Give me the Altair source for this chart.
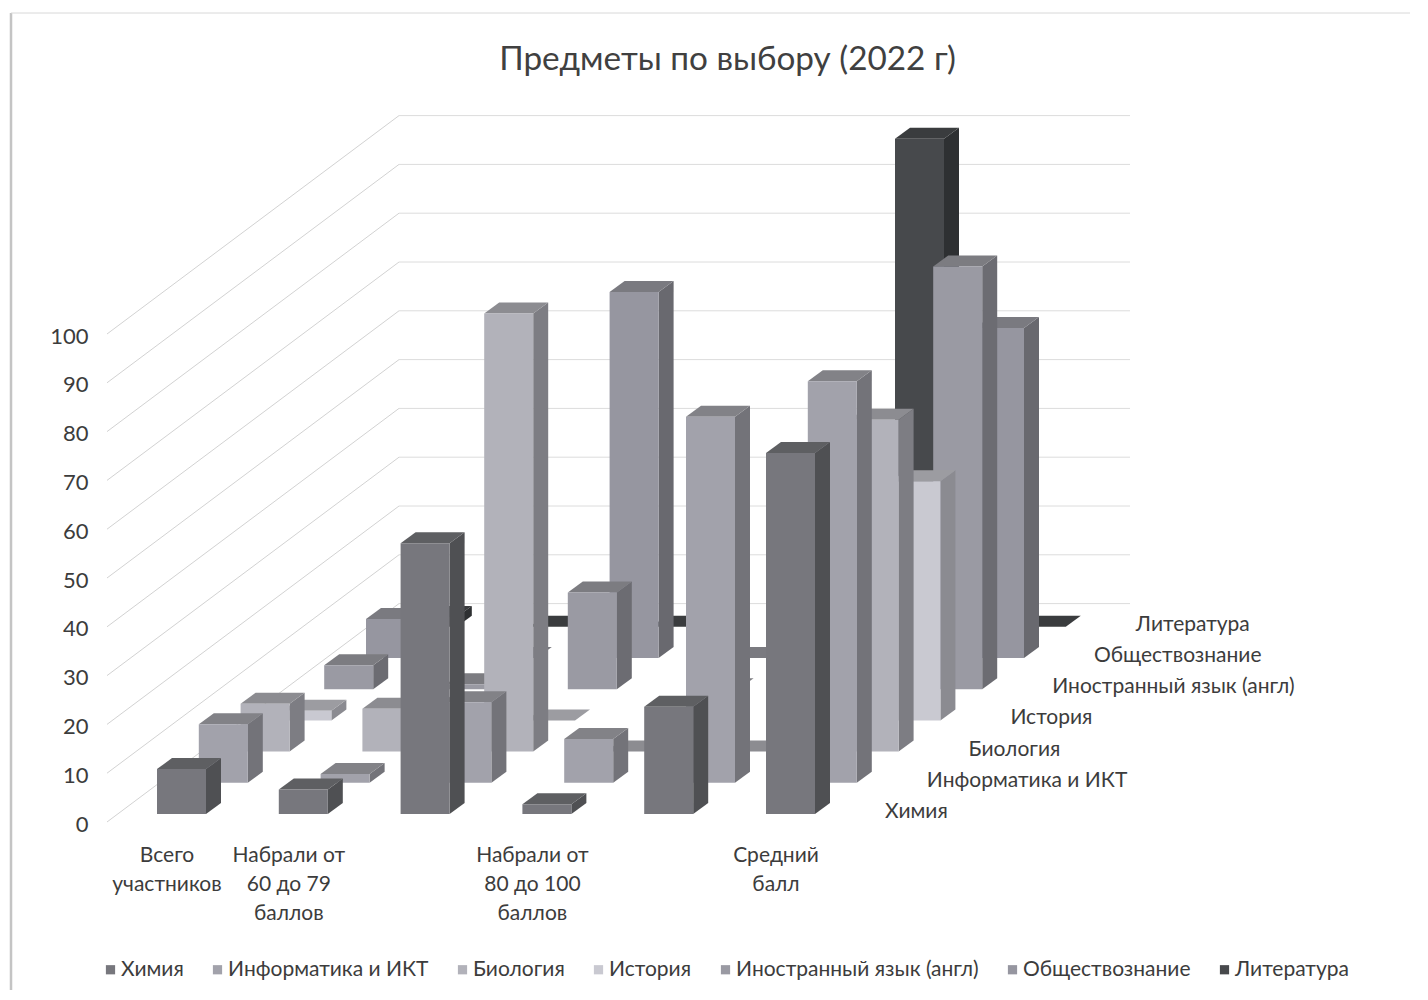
import altair as alt
import pandas as pd

TITLE = "Предметы по выбору (2022 г)"
SERIES = ["Химия", "Информатика и ИКТ", "Биология", "История",
          "Иностранный язык (англ)", "Обществознание", "Литература"]
CAT_LABELS = ["Всего\nучастников", "Набрали от\n60 до 79\nбаллов", "",
              "Набрали от\n80 до 100\nбаллов", "", "Средний\nбалл"]
V_CHEM = [9.2, 5, 55.5, 2, 22, 74]
V_INFO = [12, 1.8, 16.5, 9, 75, 82.3]
V_BIO = [9.8, 8.8, 89.8, 0, 0, 68]
V_HIST = [2, 0, 0, 0, 0, 49]
V_LANG = [4.9, 1, 19.8, 0, 0, 86.6]
V_SOC = [8, 0, 75, 0, 0, 67.6]
V_LIT = [2, 0, 0, 0, 100, 0]
VALUES = [V_CHEM, V_INFO, V_BIO, V_HIST, V_LANG, V_SOC, V_LIT]
TICKS = list(range(0, 101, 10))

FRONT = ["#77777d", "#a2a2ab", "#b2b2ba", "#c9c9d1", "#9a9aa3", "#9696a0", "#47494c"]
SIDE = ["#4f5053", "#737379", "#7d7d83", "#8b8b91", "#6c6c72", "#69696f", "#2e3032"]
TOP = ["#5e5f62", "#828287", "#8c8c91", "#9c9ca1", "#7c7c81", "#7a7a80", "#3a3c3e"]

# oblique projection constants
PX = 4.88                 # pixels per value unit
X_ORIGIN, CAT_STEP, BAR_W = 157, 121.8, 49
SER_DX, SER_DY = 41.8, 31.2 / PX
BAR_DX, BAR_DY = 15, 11 / PX
BASE = 8 / PX
WALL_X0, WALL_X1, FLOOR_X0 = 399, 1130, 107
FONT = "Lato"
TXT = "#3c3c3c"

W, H = 1265, 840
xs = alt.Scale(domain=[95, 95 + W], nice=False, zero=False)
ys = alt.Scale(domain=[-118 / PX, (822 - 100) / PX], nice=False, zero=False)
X = lambda f: alt.X(f, scale=xs, axis=None)
Y = lambda f: alt.Y(f, scale=ys, axis=None)

layers = []

# frame of the scanned page
layers.append(alt.Chart(pd.DataFrame({"a": [0]})).mark_rule(color="#c4c4c4", strokeWidth=2.5).encode(
    x=alt.value(-84), y=alt.value(-87), y2=alt.value(H + 60)))
layers.append(alt.Chart(pd.DataFrame({"a": [0]})).mark_rule(color="#d8d8d8", strokeWidth=1).encode(
    x=alt.value(-84), x2=alt.value(W + 50), y=alt.value(-87)))

# walls
grid = pd.DataFrame({"v": TICKS})
grid["x0"], grid["x1"], grid["x2"] = FLOOR_X0, WALL_X0, WALL_X1
grid["yb"] = grid["v"] + 7 * SER_DY
layers.append(alt.Chart(grid).mark_rule(color="#d2d2d2", strokeWidth=1).encode(
    x=X("x0:Q"), x2="x1:Q",
    y=alt.Y("v:Q", scale=ys, axis=alt.Axis(values=TICKS, domain=False, ticks=False, grid=False, title=None,
                                           labelFont=FONT, labelFontSize=22, labelColor=TXT, labelPadding=7,
                                           labelOffset=2)),
    y2="yb:Q"))
layers.append(alt.Chart(grid).mark_rule(color="#dcdcdc", strokeWidth=1).encode(
    x=X("x1:Q"), x2="x2:Q", y=Y("yb:Q")))

color = alt.Color("series:N", scale=alt.Scale(domain=SERIES, range=FRONT), sort=SERIES,
                  legend=alt.Legend(orient="none", legendX=5, legendY=859, direction="horizontal", columns=7,
                                    title=None, symbolType="square", symbolSize=85, symbolStrokeWidth=0,
                                    labelFont=FONT, labelFontSize=21, labelColor=TXT, labelLimit=400,
                                    columnPadding=23, labelOffset=0))

# bars, back row first
for s in range(len(SERIES) - 1, -1, -1):
    front, side, top = [], [], []
    for c, v in enumerate(VALUES[s]):
        x0 = X_ORIGIN + CAT_STEP * c + SER_DX * s
        x1 = x0 + BAR_W
        yb = BASE + SER_DY * s
        yt = yb + v
        front.append({"series": SERIES[s], "x0": x0, "x1": x1, "yb": yb, "yt": yt})
        side.append({"bar": c, "x": x1, "lo": yb, "hi": yt})
        side.append({"bar": c, "x": x1 + BAR_DX, "lo": yb + BAR_DY, "hi": yt + BAR_DY})
        top.append({"bar": c, "y": yt, "l": x0, "r": x1})
        top.append({"bar": c, "y": yt + BAR_DY, "l": x0 + BAR_DX, "r": x1 + BAR_DX})
    layers.append(alt.Chart(pd.DataFrame(side)).mark_area(color=SIDE[s]).encode(
        x=X("x:Q"), y=Y("lo:Q"), y2="hi:Q", detail="bar:N"))
    layers.append(alt.Chart(pd.DataFrame(top)).mark_area(color=TOP[s], orient="horizontal").encode(
        y=Y("y:Q"), x=X("l:Q"), x2="r:Q", detail="bar:N"))
    layers.append(alt.Chart(pd.DataFrame(front)).mark_rect().encode(
        x=X("x0:Q"), x2="x1:Q", y=Y("yb:Q"), y2="yt:Q", color=color))

# depth axis labels
ser = pd.DataFrame({"t": SERIES})
ser["x"] = [885 + SER_DX * i for i in range(len(SERIES))]
ser["y"] = [(822 - 812) / PX + SER_DY * i for i in range(len(SERIES))]
layers.append(alt.Chart(ser).mark_text(align="left", baseline="middle", font=FONT, fontSize=21, color=TXT).encode(
    x=X("x:Q"), y=Y("y:Q"), text="t:N"))

# category labels
cats = pd.DataFrame({"t": CAT_LABELS})
cats["x"] = [X_ORIGIN + CAT_STEP * i + 10 for i in range(len(CAT_LABELS))]
cats["y"] = (822 - 845) / PX
cats = cats[cats["t"] != ""]
layers.append(alt.Chart(cats).mark_text(align="center", baseline="top", font=FONT, fontSize=21, color=TXT,
                                        lineBreak="\n", lineHeight=29).encode(
    x=X("x:Q"), y=Y("y:Q"), text="t:N"))

chart = alt.layer(*layers).properties(
    width=W, height=H,
    title=alt.TitleParams(TITLE, font=FONT, fontSize=33.3, fontWeight="normal", color="#404040",
                          anchor="middle", offset=-66),
    autosize=alt.AutoSizeParams(type="none"),
    padding={"left": 87, "top": 92, "right": 60, "bottom": 50},
    background="white",
).resolve_axis(y="independent", x="independent").configure_view(strokeWidth=0)

chart.save("out.html", embed_options={"renderer": "svg", "actions": False})
